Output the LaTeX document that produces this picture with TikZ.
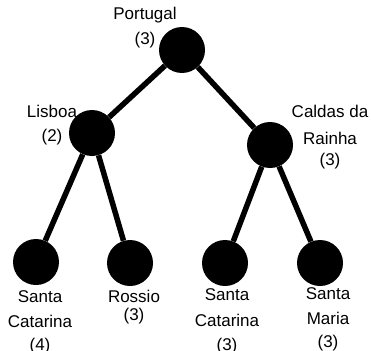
\documentclass[tikz,border=0pt]{standalone}
\usepackage{fontspec}
\setmainfont{Liberation Sans}
\begin{document}
\begin{tikzpicture}[x=1pt,y=-1pt,
  dot/.style={circle,fill=black,minimum size=46pt,inner sep=0pt},
  lbl/.style={align=center,anchor=base,inner sep=0pt,font=\fontsize{17}{24}\selectfont},
  edge/.style={line width=5.5pt}]
\useasboundingbox (0,0) rectangle (371,350);
\node[dot] (pt) at (182,50) {};
\node[dot] (li) at (92,133) {};
\node[dot] (cr) at (270,145) {};
\node[dot] (sc1) at (36,262) {};
\node[dot] (ro) at (130,263) {};
\node[dot] (sc2) at (225,263) {};
\node[dot] (sm) at (320,263) {};
\draw[edge] (pt) -- (li);
\draw[edge] (pt) -- (cr);
\draw[edge] (li) -- (sc1);
\draw[edge] (li) -- (ro);
\draw[edge] (cr) -- (sc2);
\draw[edge] (cr) -- (sm);
\node[lbl] (lpt) at (145,45) {Portugal\\[1pt](3)};
\node[lbl] (lli) at (52,141) {Lisboa\\(2)};
\node[lbl] (lcr) at (330,165) {Caldas da\\[3pt]Rainha\\[-3pt](3)};
\node[lbl] (lsc1) at (40,350) {Santa\\[1pt]Catarina\\[-1pt](4)};
\node[lbl] (lro) at (134,320) {Rossio\\[-6pt](3)};
\node[lbl] (lsc2) at (227,350) {Santa\\[2pt]Catarina\\(3)};
\node[lbl] (lsm) at (328,347) {Santa\\[1pt]Maria\\[-1pt](3)};
\end{tikzpicture}
\end{document}
